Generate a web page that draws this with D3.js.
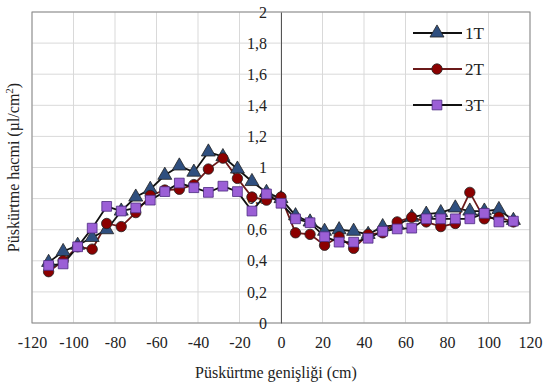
<!DOCTYPE html>
<html>
<head>
<meta charset="utf-8">
<script src="https://cdn.jsdelivr.net/npm/d3@7"></script>
<style>
  body { margin: 0; background: #fff; }
  svg text { fill: #222; }
</style>
</head>
<body>
<svg id="chart" width="550" height="390"></svg>
<script>
// genişlik (cm)
const widths = [-112, -105, -98, -91, -84, -77, -70, -63, -56, -49, -42, -35, -28, -21, -14, -7,
                0, 7, 14, 21, 28, 35, 42, 49, 56, 63, 70, 77, 84, 91, 98, 105, 112];
const t1 = [0.39, 0.46, 0.50, 0.55, 0.60, 0.72, 0.81, 0.86, 0.95, 1.01, 0.97, 1.10, 1.07, 0.99, 0.91, 0.84,
            0.80, 0.69, 0.65, 0.59, 0.60, 0.59, 0.57, 0.62, 0.63, 0.68, 0.70, 0.71, 0.74, 0.72, 0.72, 0.73, 0.66];
const t2 = [0.33, 0.40, 0.49, 0.475, 0.64, 0.62, 0.71, 0.82, 0.855, 0.86, 0.89, 0.99, 1.06, 0.93, 0.81, 0.79,
            0.81, 0.58, 0.57, 0.50, 0.555, 0.48, 0.57, 0.58, 0.65, 0.68, 0.65, 0.62, 0.64, 0.84, 0.67, 0.68, 0.65];
const t3 = [0.37, 0.38, 0.49, 0.61, 0.75, 0.72, 0.74, 0.79, 0.845, 0.90, 0.87, 0.84, 0.88, 0.845, 0.72, 0.83,
            0.77, 0.67, 0.645, 0.555, 0.52, 0.52, 0.545, 0.59, 0.605, 0.61, 0.67, 0.67, 0.67, 0.67, 0.705, 0.65, 0.655];
const xTicks = [-120, -100, -80, -60, -40, -20, 0, 20, 40, 60, 80, 100, 120];
const yTicks = [0, 0.2, 0.4, 0.6, 0.8, 1, 1.2, 1.4, 1.6, 1.8, 2];

const series = [
  { name: "1T", values: t1, line: "#111", fill: "#2f4f7f", shape: d3.symbolTriangle, size: 85 },
  { name: "2T", values: t2, line: "#6b1a1a", fill: "#8b0000", shape: d3.symbolCircle, size: 85 },
  { name: "3T", values: t3, line: "#111", fill: "#9b5fd6", shape: d3.symbolSquare, size: 95 }
];

const FONT = "Liberation Serif, DejaVu Serif, serif";
const svg = d3.select("#chart");
const pL = 32, pR = 530, pT = 12, pB = 323;

const x = d3.scaleLinear().domain([-120, 120]).range([pL, pR]);
const y = d3.scaleLinear().domain([0, 2]).range([pB, pT]);

// grid
svg.append("g")
  .selectAll("line")
  .data(xTicks)
  .join("line")
  .attr("x1", d => x(d)).attr("x2", d => x(d))
  .attr("y1", pT).attr("y2", pB)
  .attr("stroke", "#d9d9d9");
svg.append("g")
  .selectAll("line")
  .data(yTicks)
  .join("line")
  .attr("x1", pL).attr("x2", pR)
  .attr("y1", d => y(d)).attr("y2", d => y(d))
  .attr("stroke", "#d9d9d9");

svg.append("rect")
  .attr("x", pL).attr("y", pT)
  .attr("width", pR - pL).attr("height", pB - pT)
  .attr("fill", "none").attr("stroke", "#8a8a8a");

// y ekseni x=0'da
const yAxis = svg.append("g")
  .attr("transform", `translate(${x(0)},0)`)
  .call(d3.axisLeft(y).tickValues(yTicks).tickSize(0).tickPadding(14)
    .tickFormat(d => String(d).replace(".", ",")));
yAxis.attr("font-family", FONT).attr("font-size", 16);
yAxis.select(".domain").attr("stroke", "#555");
yAxis.selectAll("text").attr("fill", "#222");

const xAxis = svg.append("g")
  .attr("transform", `translate(0,${pB})`)
  .call(d3.axisBottom(x).tickValues(xTicks).tickSize(0).tickPadding(14)
    .tickFormat(d => String(d)));
xAxis.attr("font-family", FONT).attr("font-size", 16);
xAxis.select(".domain").remove();
xAxis.selectAll("text").attr("fill", "#222");

// çizgiler
const line = d3.line().x((d, i) => x(widths[i])).y(d => y(d));
series.forEach(s => {
  svg.append("path")
    .datum(s.values)
    .attr("d", line)
    .attr("fill", "none")
    .attr("stroke", s.line)
    .attr("stroke-width", 1.8);
});
series.forEach(s => {
  const sym = d3.symbol().type(s.shape).size(s.size);
  svg.append("g")
    .selectAll("path")
    .data(s.values)
    .join("path")
    .attr("transform", (d, i) => `translate(${x(widths[i])},${y(d)})`)
    .attr("d", sym)
    .attr("fill", s.fill)
    .attr("stroke", s.shape === d3.symbolSquare ? "#4b2a80" : "#222")
    .attr("stroke-width", 0.8);
});

// legend
const lg = svg.append("g").attr("font-family", FONT);
series.forEach((s, i) => {
  const ly = 33 + i * 36;
  lg.append("line")
    .attr("x1", 413).attr("x2", 462)
    .attr("y1", ly).attr("y2", ly)
    .attr("stroke", s.line).attr("stroke-width", 2);
  lg.append("path")
    .attr("transform", `translate(437,${ly})`)
    .attr("d", d3.symbol().type(s.shape).size(s.size))
    .attr("fill", s.fill)
    .attr("stroke", s.shape === d3.symbolSquare ? "#4b2a80" : "#222")
    .attr("stroke-width", 0.8);
  lg.append("text")
    .attr("x", 465).attr("y", ly)
    .attr("dy", "0.35em")
    .attr("font-size", 17)
    .text(s.name);
});

// başlıklar
svg.append("text")
  .attr("x", (pL + pR) / 2 - 5).attr("y", 378)
  .attr("text-anchor", "middle")
  .attr("font-family", FONT)
  .attr("font-size", 16)
  .text("Püskürtme genişliği (cm)");
svg.append("text")
  .attr("transform", `translate(19,${(pT + pB) / 2}) rotate(-90)`)
  .attr("text-anchor", "middle")
  .attr("font-family", FONT)
  .attr("font-size", 16)
  .html("Püskürtme hacmi (µl/cm<tspan baseline-shift='super' font-size='11'>2</tspan>)");
</script>
</body>
</html>
